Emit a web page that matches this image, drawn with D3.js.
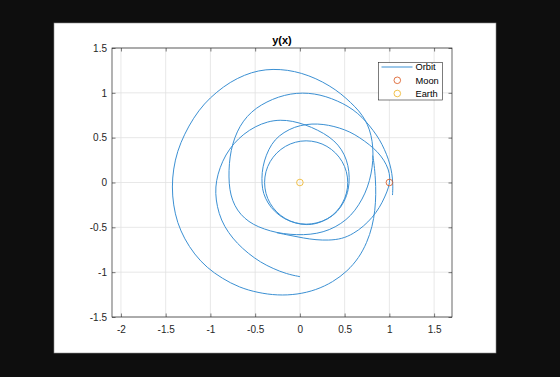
<!DOCTYPE html>
<html>
<head>
<meta charset="utf-8">
<script src="https://cdn.jsdelivr.net/npm/d3@7"></script>
<style>
  body { margin: 0; background: #0e0e0e; }
  svg { display: block; }
  text { font-family: "Liberation Sans", Arial, sans-serif; }
</style>
</head>
<body>
<svg id="drawing_region"></svg>
<script>
// orbit, NaN = pen up
const orbitX = [
  1.035, 1.04, 1.035, 1.02, 0.99, 0.945, 0.89, 0.82, 0.74, 0.65, 0.54, 0.42, 0.29, 0.16, 0.03,
  -0.10, -0.24, -0.37, -0.49, -0.59, -0.67, -0.73, -0.77, -0.79, -0.795, -0.785, -0.755, -0.70,
  -0.62, -0.52, -0.40, -0.26, -0.11, 0.04, 0.19, 0.33, 0.46, 0.57, 0.66, 0.73, 0.78, 0.81, 0.82,
  0.81, 0.78, 0.73, 0.66, 0.57, 0.46, 0.33, 0.18, 0.02, -0.14, -0.30, -0.46, -0.62, -0.78, -0.93,
  -1.07, -1.19, -1.29, -1.37, -1.415, -1.43, -1.415, -1.37, -1.29, -1.18, -1.04, -0.87, -0.68,
  -0.47, -0.25, -0.03, 0.18, 0.37, 0.53, 0.66, 0.75, 0.81, 0.84, 0.85, 0.845, 0.83, 0.815,
  NaN,
  -0.26, -0.11, 0.04, 0.18, 0.32, 0.47, 0.60, 0.71, 0.81, 0.89, 0.95, 0.995, 1.01, 0.99, 0.94,
  0.87, 0.78, 0.67, 0.56, 0.44, 0.32, 0.20, 0.07, -0.06, -0.18, -0.28, -0.35, -0.40, -0.425,
  -0.425, -0.41, -0.36, -0.28, -0.17, -0.05, 0.07, 0.19, 0.31, 0.41, 0.48, 0.525, 0.54,
  0.524, 0.477, 0.402, 0.305, 0.192, 0.07, -0.052, -0.165, -0.262, -0.337, -0.384, -0.40,
  -0.384, -0.337, -0.262, -0.165, -0.052, 0.07, 0.19, 0.31, 0.42, 0.50, 0.545, 0.555, 0.54,
  0.50, 0.43, 0.33, 0.20, 0.06, -0.08, -0.22,
  -0.36, -0.50, -0.63, -0.74, -0.83, -0.895, -0.935, -0.945, -0.925, -0.88, -0.80, -0.70, -0.58,
  -0.44, -0.30, -0.15, 0.0
];
const orbitY = [
  -0.14, -0.05, 0.05, 0.15, 0.26, 0.37, 0.48, 0.58, 0.68, 0.77, 0.85, 0.91, 0.96, 0.99, 1.0,
  0.99, 0.955, 0.90, 0.83, 0.74, 0.63, 0.50, 0.36, 0.21, 0.06, -0.08, -0.20, -0.31,
  -0.40, -0.47, -0.52, -0.56, -0.58, -0.585, -0.57, -0.53, -0.46, -0.37, -0.25, -0.12, 0.02, 0.17, 0.32,
  0.46, 0.59, 0.70, 0.80, 0.89, 0.99, 1.08, 1.16, 1.22, 1.255, 1.265, 1.25, 1.20, 1.12, 1.01,
  0.88, 0.72, 0.54, 0.35, 0.15, -0.05, -0.25, -0.45, -0.63, -0.80, -0.95, -1.07, -1.17,
  -1.23, -1.26, -1.25, -1.20, -1.11, -0.99, -0.84, -0.67, -0.49, -0.31, -0.13, 0.04, 0.20, 0.30,
  NaN,
  -0.56, -0.59, -0.62, -0.64, -0.645, -0.63, -0.57, -0.49, -0.39, -0.28, -0.16, -0.05, 0.05, 0.15, 0.25,
  0.34, 0.42, 0.50, 0.565, 0.61, 0.64, 0.655, 0.65, 0.62, 0.56, 0.48, 0.37, 0.24, 0.11,
  -0.02, -0.12, -0.23, -0.33, -0.41, -0.455, -0.475, -0.46, -0.41, -0.33, -0.23, -0.12, 0.0,
  0.122, 0.235, 0.332, 0.407, 0.454, 0.47, 0.454, 0.407, 0.332, 0.235, 0.122, 0.0,
  -0.122, -0.235, -0.332, -0.407, -0.454, -0.47, -0.455, -0.41, -0.33, -0.21, -0.08, 0.06, 0.19,
  0.31, 0.42, 0.51, 0.585, 0.645, 0.685, 0.70,
  0.68, 0.625, 0.54, 0.435, 0.31, 0.165, 0.02, -0.12, -0.27, -0.42, -0.56, -0.68, -0.79,
  -0.89, -0.96, -1.02, -1.05
];
const moonXY = [1, 0];
const earthXY = [0, 0];
const xTicks = [-2, -1.5, -1, -0.5, 0, 0.5, 1, 1.5];
const yTicks = [-1.5, -1, -0.5, 0, 0.5, 1, 1.5];
const legendLabels = ['Orbit', 'Moon', 'Earth'];
const titleText = 'y(x)';

class OrbitPlot {

    constructor( config ) {
        this.config = config;
        this.init();
    }

    init() {
        let self = this;
        const c = self.config;

        self.svg = d3.select( c.parent )
            .attr('width', c.width)
            .attr('height', c.height);

        // white figure panel
        self.svg.append('rect')
            .attr('x', 54).attr('y', 23)
            .attr('width', 442).attr('height', 330)
            .attr('fill', '#fff')
            .attr('stroke', '#8c8c8c')
            .attr('stroke-width', 0.6);

        self.chart = self.svg.append('g')
            .attr('transform', `translate(${c.margin.left}, ${c.margin.top})`);

        self.inner_width = c.plotWidth;
        self.inner_height = c.plotHeight;

        self.xscale = d3.scaleLinear()
            .domain([-2.1, 1.7])
            .range([0, self.inner_width]);

        self.yscale = d3.scaleLinear()
            .domain([-1.5, 1.5])
            .range([self.inner_height, 0]);
    }

    render() {
        let self = this;
        const fmt = d => String(d);

        // grid
        self.chart.append('g')
            .selectAll('line')
            .data(xTicks)
            .join('line')
            .attr('x1', d => self.xscale(d)).attr('x2', d => self.xscale(d))
            .attr('y1', 0).attr('y2', self.inner_height)
            .attr('stroke', '#e2e2e2').attr('stroke-width', 0.8);
        self.chart.append('g')
            .selectAll('line')
            .data(yTicks)
            .join('line')
            .attr('y1', d => self.yscale(d)).attr('y2', d => self.yscale(d))
            .attr('x1', 0).attr('x2', self.inner_width)
            .attr('stroke', '#e2e2e2').attr('stroke-width', 0.8);

        // axes, ticks pointing in on every side
        const tick = -3.5;
        const xb = self.chart.append('g')
            .attr('transform', `translate(0, ${self.inner_height})`)
            .call( d3.axisBottom(self.xscale).tickValues(xTicks).tickFormat(fmt)
                   .tickSizeInner(tick).tickSizeOuter(0).tickPadding(8.6) );
        const xt = self.chart.append('g')
            .call( d3.axisTop(self.xscale).tickValues(xTicks).tickFormat('')
                   .tickSizeInner(tick).tickSizeOuter(0) );
        const yl = self.chart.append('g')
            .call( d3.axisLeft(self.yscale).tickValues(yTicks).tickFormat(fmt)
                   .tickSizeInner(tick).tickSizeOuter(0).tickPadding(5) );
        const yr = self.chart.append('g')
            .attr('transform', `translate(${self.inner_width}, 0)`)
            .call( d3.axisRight(self.yscale).tickValues(yTicks).tickFormat('')
                   .tickSizeInner(tick).tickSizeOuter(0) );

        [xb, xt, yl, yr].forEach( g => {
            g.select('.domain').remove();
            g.selectAll('line').attr('stroke', '#262626').attr('stroke-width', 0.6);
            g.selectAll('text').attr('fill', '#262626').attr('font-size', 10)
                .style('font-family', '"Liberation Sans", Arial, sans-serif');
        });

        self.chart.append('rect')
            .attr('width', self.inner_width).attr('height', self.inner_height)
            .attr('fill', 'none')
            .attr('stroke', '#262626').attr('stroke-width', 0.7);

        // orbit
        const pts = orbitX.map( (x, i) => [x, orbitY[i]] );
        const line = d3.line()
            .defined( d => !isNaN(d[0]) )
            .x( d => self.xscale(d[0]) )
            .y( d => self.yscale(d[1]) )
            .curve( d3.curveBasis );

        self.chart.append('path')
            .datum(pts)
            .attr('d', line)
            .attr('fill', 'none')
            .attr('stroke', '#3b90d3')
            .attr('stroke-width', 1);

        self.chart.append('circle')
            .attr('cx', self.xscale(moonXY[0])).attr('cy', self.yscale(moonXY[1]))
            .attr('r', 3.3).attr('fill', 'none')
            .attr('stroke', '#D95319').attr('stroke-width', 0.8);

        self.chart.append('circle')
            .attr('cx', self.xscale(earthXY[0])).attr('cy', self.yscale(earthXY[1]))
            .attr('r', 3.3).attr('fill', 'none')
            .attr('stroke', '#EDB120').attr('stroke-width', 0.8);

        // title
        self.svg.append('text')
            .attr('x', self.config.margin.left + self.inner_width / 2)
            .attr('y', 43.5)
            .attr('text-anchor', 'middle')
            .attr('font-size', 11)
            .attr('font-weight', 'bold')
            .attr('fill', '#000')
            .text(titleText);

        // legend
        const lg = self.svg.append('g').attr('transform', 'translate(378.5, 62.5)');
        lg.append('rect')
            .attr('width', 64).attr('height', 37.5)
            .attr('fill', '#fff')
            .attr('stroke', '#262626').attr('stroke-width', 0.6);

        const rowY = [4.5, 17.8, 31];
        lg.append('line')
            .attr('x1', 3).attr('x2', 34)
            .attr('y1', rowY[0]).attr('y2', rowY[0])
            .attr('stroke', '#3b90d3').attr('stroke-width', 1);
        lg.append('circle')
            .attr('cx', 18.8).attr('cy', rowY[1]).attr('r', 3.3)
            .attr('fill', 'none').attr('stroke', '#D95319').attr('stroke-width', 0.8);
        lg.append('circle')
            .attr('cx', 18.8).attr('cy', rowY[2]).attr('r', 3.3)
            .attr('fill', 'none').attr('stroke', '#EDB120').attr('stroke-width', 0.8);

        lg.selectAll('text.lab')
            .data(legendLabels)
            .join('text')
            .attr('class', 'lab')
            .attr('x', 37)
            .attr('y', (d, i) => rowY[i])
            .attr('dy', '0.35em')
            .attr('font-size', 9.3)
            .attr('fill', '#000')
            .text(d => d);
    }
}

const plot = new OrbitPlot({
    parent: '#drawing_region',
    width: 560,
    height: 377,
    margin: {top: 48, left: 112},
    plotWidth: 340,
    plotHeight: 269
});
plot.render();
</script>
</body>
</html>
